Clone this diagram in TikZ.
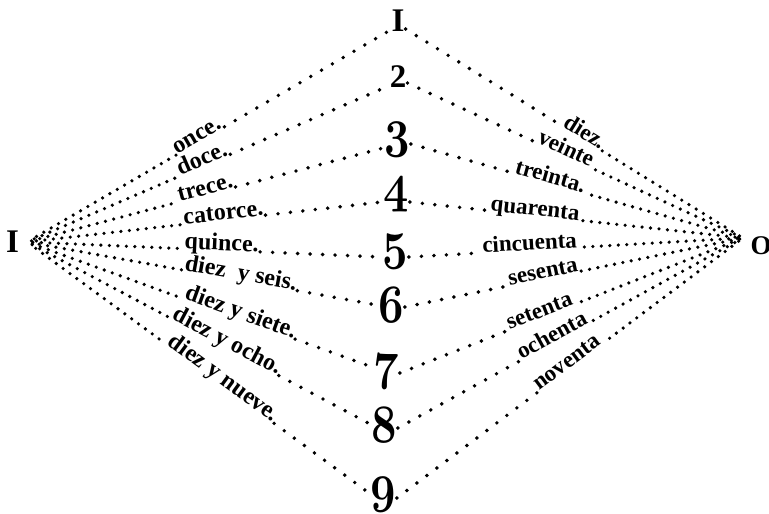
\documentclass[tikz,border=0pt]{standalone}
\usepackage{fontspec}
\newfontfamily\lblfont{Liberation Serif}
\DeclareFontFamily{OML}{osfnum}{\skewchar\font=127}
\DeclareFontShape{OML}{osfnum}{b}{it}{<-> cmmib10}{}
\tikzset{
  lbl/.style={font=\lblfont\bfseries\fontsize{24}{24}\selectfont, sloped, anchor=base west, inner sep=1.5pt},
  rlbl/.style={lbl, font=\lblfont\bfseries\fontsize{23}{23}\selectfont},
  dense/.style={line width=3.6pt, line cap=round, dash pattern=on 0pt off 8.5pt},
  sparse/.style={line width=3.9pt, line cap=round, dash pattern=on 0pt off 12.5pt},
  bignum/.style={font=\fontsize{54}{54}\usefont{OML}{osfnum}{b}{it}, inner sep=1pt},
  romnum/.style={font=\lblfont\bfseries\fontsize{33}{33}\selectfont, inner sep=1pt},
}
\newcommand\lfan[6]{%
  \path (L) -- ([yshift=#2]#1.west) node[lbl,pos=#3] (#4) {#5};
  \draw[dense, dash phase=#6pt, shorten >=4pt] (#4.base west) -- (L);
  \draw[sparse] (#4.base east) -- ([yshift=#2]#1.west);
}
\newcommand\rfan[6]{%
  \path ([yshift=#2]#1.east) -- (R) node[rlbl,pos=#3] (#4) {#5};
  \draw[sparse] ([yshift=#2]#1.east) -- (#4.base west);
  \draw[dense, dash phase=#6pt, shorten >=3pt] (#4.base east) -- (R);
}
\newcommand\bnum[1]{\scalebox{0.82}[1]{#1}}
\begin{document}
\begin{tikzpicture}[x=1pt,y=1pt]
\useasboundingbox (0,0) rectangle (769,-514);
% end letters
\node[romnum] (lI) at (12.5,-242) {I};
\node[romnum, font=\lblfont\bfseries\fontsize{27}{27}\selectfont] (rO) at (761,-246) {O};
\coordinate (L) at (27,-242);
\coordinate (R) at (743,-238);
% centre column
\node[romnum] (d1) at (398,-21) {I};
\node[romnum] (d2) at (398,-77) {2};
\node[bignum] (d3) at (397,-140) {\bnum{3}};
\node[bignum] (d4) at (396,-195) {\bnum{4}};
\node[bignum] (d5) at (395,-252) {\bnum{5}};
\node[bignum] (d6) at (391,-305) {\bnum{6}};
\node[bignum] (d7) at (386,-372) {\bnum{7}};
\node[bignum] (d8) at (384,-425) {\bnum{8}};
\node[bignum] (d9) at (383,-495) {\bnum{9}};
% left fan
\lfan{d1}{-9pt}{0.41}{n11}{once.}{0}
\lfan{d2}{-9pt}{0.42}{n12}{doce.}{4}
\lfan{d3}{-8pt}{0.424}{n13}{trece.}{1.5}
\lfan{d4}{-7pt}{0.438}{n14}{catorce.}{6}
\lfan{d5}{-5pt}{0.44}{n15}{quince.}{3}
\lfan{d6}{0pt}{0.444}{n16}{diez\ \ y seis.}{7.5}
\lfan{d7}{5pt}{0.45}{n17}{diez y siete.}{2}
\lfan{d8}{1pt}{0.418}{n18}{diez y ocho.}{5}
\lfan{d9}{2pt}{0.405}{n19}{diez y nueve.}{0.5}
% right fan
\rfan{d1}{-8pt}{0.46}{n10}{diez.}{0}
\rfan{d2}{-6pt}{0.38}{n20}{veinte}{4}
\rfan{d3}{-4pt}{0.306}{n30}{treinta.}{1.5}
\rfan{d4}{-7pt}{0.236}{n40}{quarenta}{6}
\rfan{d5}{-5pt}{0.216}{n50}{cincuenta}{3}
\rfan{d6}{-2pt}{0.305}{n60}{sesenta}{7.5}
\rfan{d7}{-1pt}{0.315}{n70}{setenta}{2}
\rfan{d8}{-3pt}{0.354}{n80}{ochenta}{5}
\rfan{d9}{-3pt}{0.408}{n90}{noventa}{0.5}
\end{tikzpicture}
\end{document}
